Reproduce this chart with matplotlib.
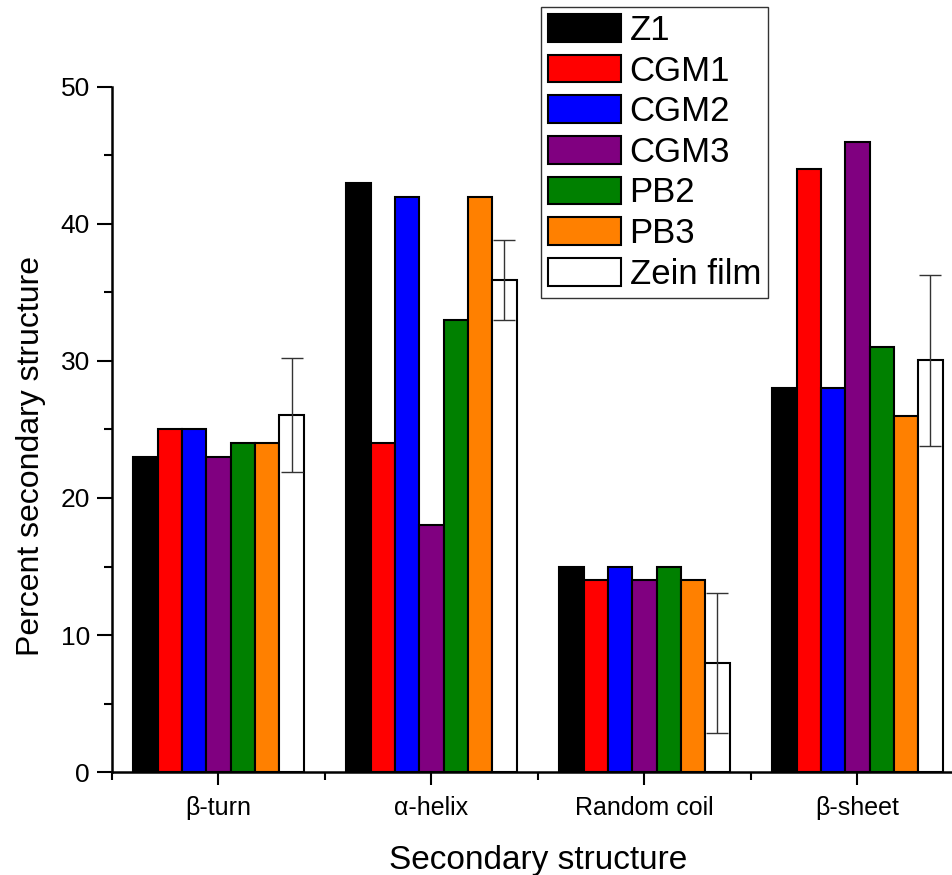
import numpy as np
import matplotlib.pyplot as plt
from matplotlib.ticker import MultipleLocator, FixedLocator

plt.rcParams['font.family'] = ['Liberation Sans', 'DejaVu Sans']

# datos
categorias = ["\u03b2-turn", "\u03b1-helix", "Random coil", "\u03b2-sheet"]
series = ["Z1", "CGM1", "CGM2", "CGM3", "PB2", "PB3", "Zein film"]
colores = ["#000000", "#ff0000", "#0000ff", "#800080", "#008000", "#ff8000", "#ffffff"]

z1 = [23, 43, 15, 28]
cgm1 = [25, 24, 14, 44]
cgm2 = [25, 42, 15, 28]
cgm3 = [23, 18, 14, 46]
pb2 = [24, 33, 15, 31]
pb3 = [24, 42, 14, 26]
zein = [26.05, 35.9, 7.95, 30.05]
zein_err = [4.15, 2.9, 5.1, 6.25]

valores = [z1, cgm1, cgm2, cgm3, pb2, pb3, zein]

fig = plt.figure(figsize=(9.53, 8.75), dpi=100)
ax = fig.add_axes([0.1175, 0.1177, 0.894, 0.7829])

x = np.arange(1, len(categorias) + 1)
ancho = 0.8 / len(series)

for i, (nombre, vals, c) in enumerate(zip(series, valores, colores)):
    pos = x - 0.4 + ancho * (i + 0.5)
    ax.bar(pos, vals, width=ancho, color=c, edgecolor="black", linewidth=1.5,
           label=nombre, zorder=2)
    if nombre == "Zein film":
        ax.errorbar(pos, vals, yerr=zein_err, fmt="none", ecolor="#333333",
                    elinewidth=1.0, capsize=8, capthick=1.0, zorder=3)

ax.set_xlim(0.5, 4.5)
ax.set_ylim(0, 50)

ax.spines["top"].set_visible(False)
ax.spines["right"].set_visible(False)
ax.spines["left"].set_linewidth(1.8)
ax.spines["bottom"].set_linewidth(1.8)

ax.set_xticks(x)
ax.set_xticklabels(categorias, fontsize=18)
ax.xaxis.set_minor_locator(FixedLocator([0.5, 1.5, 2.5, 3.5]))
ax.yaxis.set_major_locator(MultipleLocator(10))
ax.yaxis.set_minor_locator(MultipleLocator(5))
ax.tick_params(axis="y", which="major", length=11, width=1.5, labelsize=19, pad=5)
ax.tick_params(axis="y", which="minor", length=6, width=1.5)
ax.tick_params(axis="x", which="major", length=9.5, width=1.5, pad=8)
ax.tick_params(axis="x", which="minor", length=6, width=1.5)

ax.set_xlabel("Secondary structure", fontsize=24, labelpad=18)
ax.set_ylabel("Percent secondary structure", fontsize=23)
ax.yaxis.set_label_coords(-0.078, 0.461)

ax.legend(loc="upper left", bbox_to_anchor=(541 / 953, 1 - 7 / 875),
          bbox_transform=fig.transFigure, fontsize=25, frameon=True,
          fancybox=False, edgecolor="#333333", framealpha=1,
          handlelength=2.1, handleheight=0.85, labelspacing=0.22,
          handletextpad=0.25, borderpad=0.2, borderaxespad=0)

fig.savefig("out.png", dpi=100)
